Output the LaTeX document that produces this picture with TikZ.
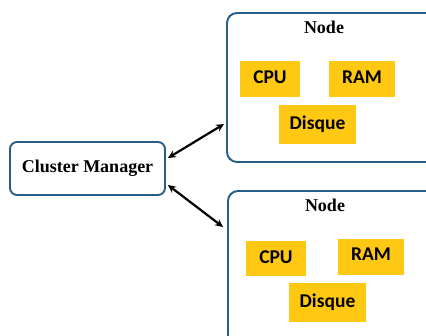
\documentclass[tikz,border=0pt]{standalone}
\usepackage{fontspec}
\setmainfont{Liberation Serif}
\newfontfamily\calib{Carlito}
\usetikzlibrary{arrows.meta}
\definecolor{edgeblue}{RGB}{38,94,136}
\definecolor{chipyellow}{RGB}{255,200,18}
\tikzset{
  nodebox/.style={draw=edgeblue, line width=1.9pt, rounded corners=10pt, fill=white},
  cmbox/.style={draw=edgeblue, line width=1.9pt, rounded corners=7pt, fill=white,
    minimum width=155pt, minimum height=53pt, font=\fontsize{18}{20}\selectfont\bfseries},
  chip/.style={fill=chipyellow, inner sep=0pt, font=\calib\fontsize{19.5}{22}\selectfont\bfseries},
  title/.style={font=\fontsize{18}{20}\selectfont\bfseries},
  link/.style={line width=2.2pt, {Stealth[length=8pt,width=7.5pt]}-{Stealth[length=8pt,width=7.5pt]}}
}
\begin{document}
\begin{tikzpicture}[x=1pt,y=-1pt]
\useasboundingbox (0,0) rectangle (426,335);
\clip (0,0) rectangle (426,335);
\node[nodebox, minimum width=214pt, minimum height=149pt] (n1) at (334,87.5) {};
\node[nodebox, minimum width=214pt, minimum height=154pt] (n2) at (335,268) {};
\node[cmbox] (cm) at (87.5,168.5) {Cluster Manager};
\node[title] (t1) at (324,27) {Node};
\node[title] (t2) at (325,205) {Node};
\node[chip, minimum width=60pt, minimum height=36pt, text depth=4pt] (cpu1) at (270,79) {CPU};
\node[chip, minimum width=66pt, minimum height=36pt, text depth=4pt] (ram1) at (362,79) {RAM};
\node[chip, minimum width=77pt, minimum height=39pt, text depth=3pt] (dsk1) at (317.5,124.5) {Disque};
\node[chip, minimum width=60pt, minimum height=35pt, text depth=3pt] (cpu2) at (276,258.5) {CPU};
\node[chip, minimum width=66pt, minimum height=36pt, text depth=5pt] (ram2) at (371,257) {RAM};
\node[chip, minimum width=77pt, minimum height=39pt, text depth=3pt] (dsk2) at (327.5,302.5) {Disque};
\draw[link] ([xshift=2pt,yshift=10.5pt]cm.east) -- ([xshift=-2pt,yshift=-36.5pt]n1.west);
\draw[link] ([xshift=2pt,yshift=-16.5pt]cm.east) -- ([xshift=-4pt,yshift=41pt]n2.west);
\end{tikzpicture}
\end{document}
